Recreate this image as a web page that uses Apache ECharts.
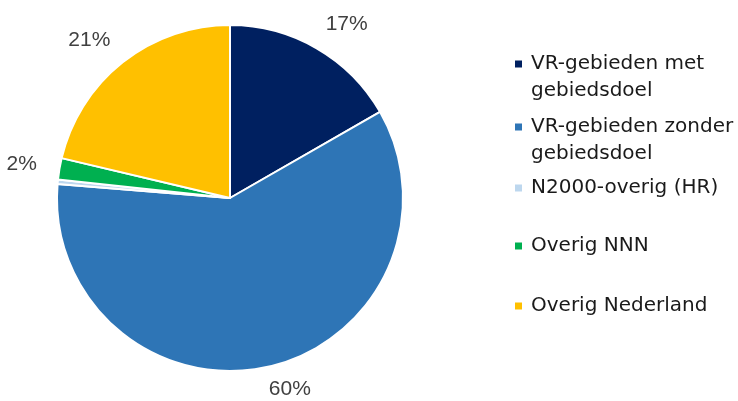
<!DOCTYPE html>
<html>
<head>
<meta charset="utf-8">
<script src="https://cdn.jsdelivr.net/npm/echarts@6/dist/echarts.min.js"></script>
<style>
  html, body { margin: 0; padding: 0; background: #fff; }
  #chart { width: 738px; height: 401px; }
</style>
</head>
<body>
<div id="chart"></div>
<script>
// categorieen en aandelen (%)
var categories = ['VR-gebieden met gebiedsdoel', 'VR-gebieden zonder gebiedsdoel', 'N2000-overig (HR)', 'Overig NNN', 'Overig Nederland'];
var legendLabels = ['VR-gebieden met\ngebiedsdoel', 'VR-gebieden zonder\ngebiedsdoel', 'N2000-overig (HR)', 'Overig NNN', 'Overig Nederland'];
var shares = [16.7, 59.6, 0.4, 2.0, 21.3];
var colors = ['#002060', '#2E75B6', '#BDD7EE', '#00B050', '#FFC000'];

var legendCenters = [64, 127, 188, 246, 306]; // y van eerste regel
var twoLineIcon = 'path://M0,0L7,0L7,7L0,7Z M0,34L7,34';

var legends = categories.map(function(name, i) {
	var twoLines = legendLabels[i].indexOf('\n') >= 0;
	return {
		data : [ name ],
		orient : 'vertical',
		left : 515,
		top : legendCenters[i] - 13.5,
		padding : 0,
		itemWidth : 7,
		itemHeight : twoLines ? 34 : 7,
		icon : twoLines ? twoLineIcon : 'rect',
		itemStyle : { borderWidth : 0 },
		selectedMode : false,
		formatter : function() { return legendLabels[i]; },
		textStyle : {
			fontFamily : 'DejaVu Sans',
			fontSize : 20,
			lineHeight : 27,
			color : '#1a1a1a',
			padding : [0, 0, 0, 4]
		}
	};
});

var chart = echarts.init(document.getElementById('chart'));
chart.setOption({
	animation : false,
	color : colors,
	legend : legends,
	series : [ {
		type : 'pie',
		center : [230, 198],
		radius : 173,
		startAngle : 90,
		clockwise : true,
		itemStyle : {
			borderColor : '#fff',
			borderWidth : 2
		},
		label : {
			show : true,
			position : 'outside',
			fontFamily : 'Liberation Sans',
			fontSize : 21,
			color : '#404040',
			overflow : 'none',
			edgeDistance : 0,
			distanceToLabelLine : -5,
			formatter : function(p) { return Math.round(p.percent) + '%'; }
		},
		labelLine : { show : false, length : 28, length2 : 0 },
		emphasis : { disabled : true },
		data : categories.map(function(name, i) {
			var item = { name : name, value : shares[i] };
			if (i === 2) item.label = { show : false };
			return item;
		})
	} ]
});
</script>
</body>
</html>
